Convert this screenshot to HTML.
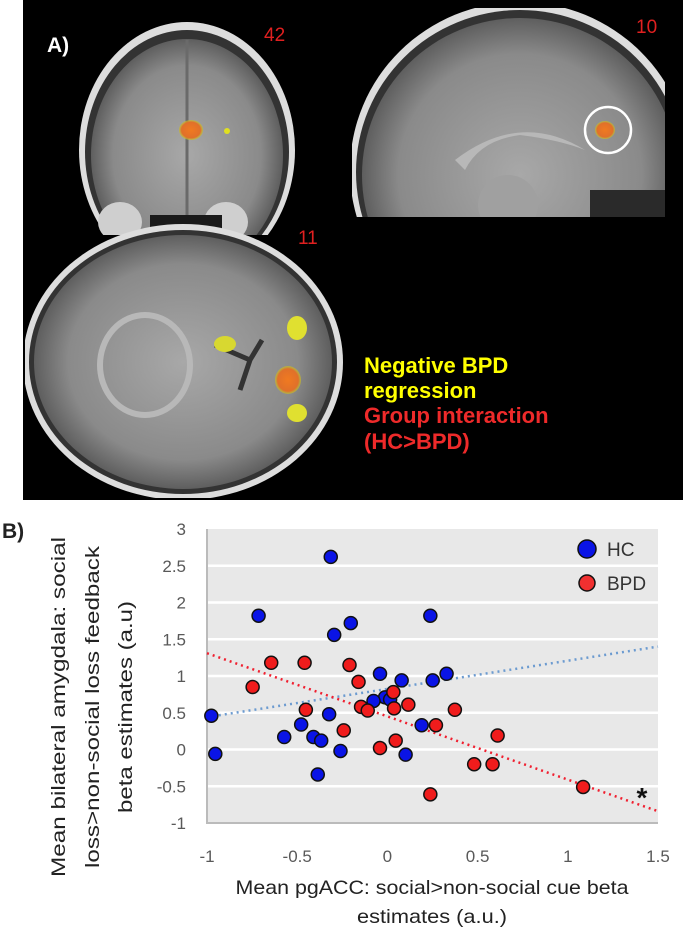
<!DOCTYPE html>
<html><head><meta charset="utf-8"><style>
html,body{margin:0;padding:0;background:#fff;width:683px;height:940px;overflow:hidden;font-family:"Liberation Sans",sans-serif}
svg{display:block}
</style></head><body>
<svg width="683" height="940" viewBox="0 0 683 940">
<defs>
<radialGradient id="brainG" cx="50%" cy="50%" r="55%"><stop offset="0" stop-color="#a8a8a8"/><stop offset="0.7" stop-color="#8a8a8a"/><stop offset="0.93" stop-color="#5a5a5a"/><stop offset="1" stop-color="#222"/></radialGradient>
<radialGradient id="blobO" cx="50%" cy="50%" r="50%"><stop offset="0" stop-color="#f07a20"/><stop offset="0.8" stop-color="#e0702a"/><stop offset="1" stop-color="#c8c820" stop-opacity="0.6"/></radialGradient>
<clipPath id="corClip"><rect x="78" y="20" width="218" height="215"/></clipPath>
<clipPath id="sagClip"><rect x="352" y="8" width="313" height="209"/></clipPath>
<clipPath id="axClip"><rect x="25" y="222" width="320" height="276"/></clipPath>
</defs>
<g>
<rect x="23" y="0" width="660" height="500" fill="#000"/>
<g clip-path="url(#corClip)">
<ellipse cx="187" cy="150" rx="108" ry="128" fill="#ddd"/>
<ellipse cx="187" cy="152" rx="102" ry="122" fill="#333"/>
<ellipse cx="187" cy="155" rx="96" ry="116" fill="url(#brainG)"/>
<line x1="187" y1="40" x2="187" y2="235" stroke="#6a6a6a" stroke-width="3"/>
<ellipse cx="120" cy="222" rx="22" ry="20" fill="#cfcfcf"/>
<ellipse cx="226" cy="222" rx="22" ry="20" fill="#cfcfcf"/>
<rect x="150" y="215" width="72" height="20" fill="#1a1a1a"/>
<ellipse cx="191" cy="130" rx="12" ry="10" fill="url(#blobO)"/>
<circle cx="227" cy="131" r="3" fill="#e0e020"/>
</g>
<g clip-path="url(#sagClip)">
<ellipse cx="520" cy="170" rx="170" ry="168" fill="#ddd"/>
<ellipse cx="520" cy="172" rx="164" ry="162" fill="#333"/>
<ellipse cx="520" cy="175" rx="158" ry="157" fill="url(#brainG)"/>
<path d="M455 160 Q520 110 585 150 Q560 140 520 135 Q480 140 465 170 Z" fill="#b8b8b8"/>
<ellipse cx="508" cy="205" rx="30" ry="30" fill="#a0a0a0"/>
<rect x="590" y="190" width="75" height="30" fill="#2a2a2a"/>
<ellipse cx="605" cy="130" rx="10" ry="9" fill="url(#blobO)"/>
<circle cx="608" cy="130" r="23" fill="none" stroke="#fff" stroke-width="2.5"/>
</g>
<g clip-path="url(#axClip)">
<ellipse cx="183" cy="362" rx="160" ry="138" fill="#ddd"/>
<ellipse cx="183" cy="362" rx="154" ry="132" fill="#333"/>
<ellipse cx="183" cy="362" rx="149" ry="127" fill="url(#brainG)"/>
<ellipse cx="145" cy="365" rx="45" ry="50" fill="none" stroke="#b8b8b8" stroke-width="6"/>
<path d="M215 345 L250 360 L240 390 M250 360 L262 340" stroke="#333" stroke-width="5" fill="none"/>
<ellipse cx="288" cy="380" rx="13" ry="14" fill="url(#blobO)"/>
<ellipse cx="297" cy="328" rx="10" ry="12" fill="#e0e030"/>
<ellipse cx="297" cy="413" rx="10" ry="9" fill="#e0e030"/>
<ellipse cx="225" cy="344" rx="11" ry="8" fill="#d8d830"/>
</g>
<text x="47" y="52" fill="#fff" font-size="21" font-weight="bold">A)</text>
<text x="264" y="41" fill="#e02020" font-size="19">42</text>
<text x="636" y="33" fill="#e02020" font-size="19">10</text>
<text x="298" y="244" fill="#e02020" font-size="19">11</text>
<g font-weight="bold" font-size="22">
<text x="364" y="373" fill="#ffff00">Negative BPD</text>
<text x="364" y="398" fill="#ffff00">regression</text>
<text x="364" y="423" fill="#ee2a2a">Group interaction</text>
<text x="364" y="449" fill="#ee2a2a">(HC&gt;BPD)</text>
</g>
</g>
<text x="2" y="538" font-size="21" font-weight="bold" fill="#222">B)</text>
<g id="chart"></g>
<g font-size="19.5" fill="#222" text-anchor="middle">
<text transform="translate(65,707) rotate(-90)" textLength="340" lengthAdjust="spacingAndGlyphs">Mean bilateral amygdala: social</text>
<text transform="translate(99,707) rotate(-90)" textLength="322" lengthAdjust="spacingAndGlyphs">loss&gt;non-social loss feedback</text>
<text transform="translate(132,707) rotate(-90)" textLength="212" lengthAdjust="spacingAndGlyphs">beta estimates (a.u)</text>
</g>
<g font-size="19.5" fill="#222" text-anchor="middle">
<text x="432" y="894" textLength="393" lengthAdjust="spacingAndGlyphs">Mean pgACC: social&gt;non-social cue beta</text>
<text x="432" y="923" textLength="150" lengthAdjust="spacingAndGlyphs">estimates (a.u.)</text>
</g>
</svg>
<script>
const xTicks=[-1,-0.5,0,0.5,1,1.5];
const xTickLabels=["-1","-0.5","0","0.5","1","1.5"];
const yTicks=[-1,-0.5,0,0.5,1,1.5,2,2.5,3];
const yTickLabels=["-1","-0.5","0","0.5","1","1.5","2","2.5","3"];
const hcX=[-0.314,-0.714,0.238,-0.203,-0.295,-0.041,0.328,0.079,0.251,-0.013,-0.077,0.015,-0.976,-0.323,-0.478,-0.572,-0.41,-0.367,0.19,-0.26,-0.954,0.101,-0.386];
const hcY=[2.62,1.82,1.82,1.72,1.56,1.03,1.03,0.94,0.94,0.71,0.66,0.68,0.46,0.48,0.34,0.17,0.17,0.12,0.33,-0.02,-0.06,-0.07,-0.34];
const bpdX=[-0.644,-0.459,-0.21,-0.747,-0.16,0.033,-0.146,-0.109,0.037,0.116,-0.452,0.374,-0.242,0.269,0.611,0.046,-0.041,0.481,0.583,1.085,0.238];
const bpdY=[1.18,1.18,1.15,0.85,0.92,0.78,0.58,0.53,0.56,0.61,0.54,0.54,0.26,0.33,0.19,0.12,0.02,-0.2,-0.2,-0.51,-0.61];
const hcTrend=[[-1,0.44],[1.5,1.40]];
const bpdTrend=[[-1,1.31],[1.5,-0.84]];
const NS="http://www.w3.org/2000/svg";
const L=207,R=658,T=529,B=823;
const sx=v=>L+(v+1)/2.5*(R-L);
const sy=v=>B-(v+1)/4*(B-T);
const g=document.getElementById('chart');
function mk(t,a){const e=document.createElementNS(NS,t);for(const k in a)e.setAttribute(k,a[k]);g.appendChild(e);return e;}
let e=mk('rect',{x:L,y:T,width:R-L,height:B-T,fill:'#e8e8e8'});


yTicks.forEach((v,i)=>{
 if(v>-1&&v<3){const l=mk('line',{x1:L,x2:R,y1:sy(v),y2:sy(v),stroke:'#fff','stroke-width':2.5});
 
 }
 const t=mk('text',{x:186,y:sy(v)+6,'text-anchor':'end','font-size':17,fill:'#595959'});t.textContent=yTickLabels[i];
 
 
});
xTicks.forEach((v,i)=>{
 const t=mk('text',{x:sx(v),y:862,'text-anchor':'middle','font-size':17,fill:'#595959'});t.textContent=xTickLabels[i];
 
 
});
e=mk('path',{d:`M${L} ${T}V${B}H${R}`,fill:'none',stroke:'#bbb','stroke-width':2});


function trend(p,c,n){const l=mk('line',{x1:sx(p[0][0]),y1:sy(p[0][1]),x2:sx(p[1][0]),y2:sy(p[1][1]),stroke:c,'stroke-width':2.5,'stroke-dasharray':'2 4'});
 
 }
trend(hcTrend,'#6c9bd0','hc-trendline');
trend(bpdTrend,'#f02030','bpd-trendline');
function pts(xs,ys,c,n){xs.forEach((x,i)=>{const p=mk('circle',{cx:sx(x),cy:sy(ys[i]),r:6.5,fill:c,stroke:'#111','stroke-width':1.5});
 
 });}
pts(hcX,hcY,'#0a14e6','hc-point');
pts(bpdX,bpdY,'#f01c1c','bpd-point');
e=mk('circle',{cx:587,cy:549,r:9,fill:'#0a14e6',stroke:'#111','stroke-width':1.5});


e=mk('circle',{cx:587,cy:583,r:8,fill:'#f03030',stroke:'#111','stroke-width':1.5});


e=mk('text',{x:607,y:556,'font-size':19,fill:'#333'});e.textContent='HC';


e=mk('text',{x:607,y:590,'font-size':19,fill:'#333'});e.textContent='BPD';


e=mk('text',{x:642,y:807,'font-size':28,'font-weight':'bold',fill:'#111','text-anchor':'middle'});e.textContent='*';


</script>
</body></html>
